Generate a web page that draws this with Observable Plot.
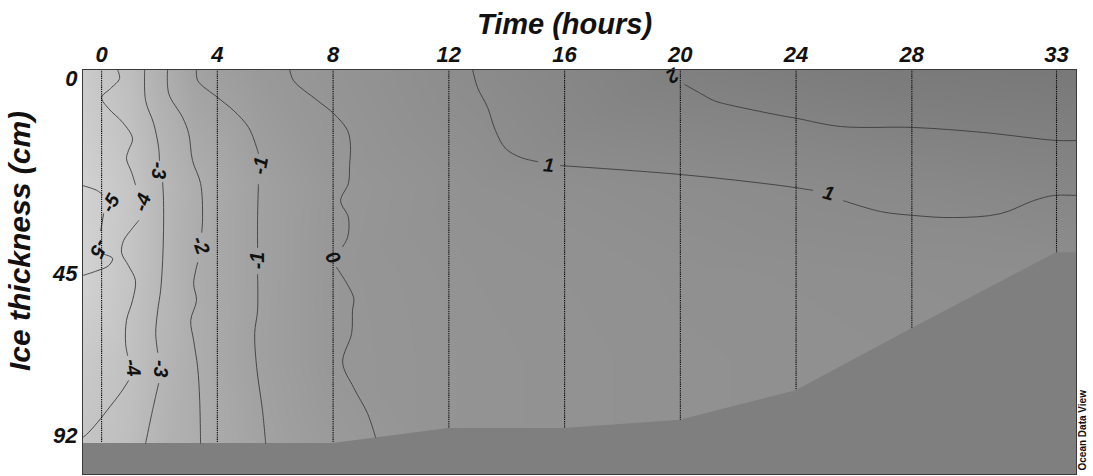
<!DOCTYPE html>
<html>
<head>
<meta charset="utf-8">
<script src="https://cdn.jsdelivr.net/npm/d3@7"></script>
<script src="https://cdn.jsdelivr.net/npm/@observablehq/plot@0.6"></script>
<style>
  body { margin: 0; background: #fff; }
  svg { display: block; }
</style>
</head>
<body>
<div id="chart"></div>
<script>
// Sampling times (hours) and the ice bottom under each station (cm)
const stationTimes = [0, 4, 8, 12, 16, 20, 24, 28, 33];
const stationBottom = [94.3, 94.3, 94.3, 90.0, 90.0, 87.6, 79.0, 61.0, 40.2];

// Ice bottom outline, edge to edge
const bottomTimes = [-0.66, 0, 4, 8, 12, 16, 20, 24, 28, 33, 33.69];
const bottomDepths = [94.3, 94.3, 94.3, 94.3, 90.0, 90.0, 87.6, 79.0, 61.0, 40.2, 40.2];

// Axis ticks
const timeTicks = [0, 4, 8, 12, 16, 20, 24, 28, 33];
const depthTicks = [0, 45, 92];

// Section extent
const timeDomain = [-0.66, 33.69];
const depthKnots = [-2.08, 0, 45, 92, 103.3];

// Gridded temperature (°C): rows follow fieldDepths, columns follow fieldTimes
const fieldTimes = [-0.66, 1, 2, 3.3, 5.4, 8.3, 13, 20, 27, 33.69];
const fieldDepths = [-2.08, 25, 45, 70, 103.3];
const fieldTemps = [
  [-4.7, -3.5, -2.3, -1.0, -0.3, 0.25, 1.0, 2.05, 2.5, 2.7],
  [-5.3, -4.2, -3.1, -2.1, -1.0, -0.05, 0.5, 0.85, 1.15, 1.5],
  [-5.4, -4.1, -3.1, -1.95, -1.0, 0.03, 0.35, 0.55, 0.7, 0.8],
  [-4.6, -3.8, -2.9, -2.0, -0.95, 0.0, 0.3, 0.5, 0.6, 0.7],
  [-4.0, -3.4, -2.6, -2.0, -1.2, -0.4, 0.3, 0.5, 0.6, 0.7]
];

// Isotherms as [time, depth] vertices; null breaks the line where a label sits
const isoM5 = [[-0.66, 24.7], [-0.17, 25.8], [0.03, 26.8], null,
  [0.07, 31.2], [-0.03, 35.1], null,
  [0.10, 40.6], [0.38, 41.5], [0.24, 43.2], [-0.21, 44.5], [-0.66, 45.6]];
const isoM4 = [[0.55, -2.08], [0.62, 0], [0.31, 2.31], [0, 4.38], [0.24, 6.92], [0.73, 10.15],
  [1.07, 13.85], [0.93, 16.6], [0.86, 18.5], [1.04, 21.7], [1.17, 24.5], null,
  [1.28, 32.8], [1.00, 35.1], [0.76, 37.4], [0.69, 40.2], [0.93, 43.2], [1.17, 47.0],
  [1.07, 52.8], [0.86, 58.6], [0.83, 65.3], [0.90, 68.8], null,
  [0.93, 76.1], [0.66, 79.6], [0.31, 83.4], [-0.14, 88.2], [-0.52, 91.7], [-0.66, 92.6]];
const isoM3 = [[1.49, -2.08], [1.52, 5.08], [1.80, 10.4], [1.97, 15.9], [2.00, 18.9], null,
  [2.11, 24.0], [2.14, 28.2], [2.14, 35.1], [2.11, 42.0], [2.04, 49.9], [1.94, 55.7],
  [1.87, 62.4], [1.94, 67.9], null,
  [1.97, 76.9], [1.76, 84.7], [1.52, 94.3]];
const isoM2 = [[2.28, -2.08], [2.32, 3.46], [2.80, 9.0], [3.01, 12.7], [3.14, 18.9],
  [3.42, 24.2], [3.49, 32.1], [3.46, 35.5], null,
  [3.32, 42.5], [3.18, 47.9], [3.28, 52.8], [3.08, 58.6], [3.18, 64.4], [3.32, 72.3],
  [3.39, 81.8], [3.42, 94.3]];
const isoM1 = [[3.28, -2.08], [3.32, 0.46], [4.01, 4.38], [4.56, 7.39], [5.08, 11.3],
  [5.39, 16.6], [5.42, 17.3], null,
  [5.42, 24.5], [5.39, 32.1], [5.39, 39.0], null,
  [5.39, 45.3], [5.39, 55.7], [5.29, 62.4], [5.36, 72.3], [5.56, 84.7], [5.67, 94.3]];
const iso0 = [[6.50, -2.08], [6.63, 0.46], [7.46, 5.08], [8.02, 8.08], [8.50, 12.0],
  [8.60, 15.5], [8.57, 20.1], [8.53, 24.2], [8.26, 28.2], [8.53, 32.1], [8.50, 36.7],
  [8.33, 38.8], null,
  [8.12, 43.6], [8.71, 52.0], [8.67, 55.7], [8.64, 62.4], [8.33, 70.8], [8.71, 78.1],
  [9.19, 85.6], [9.47, 92.6]];
const iso1 = [[12.82, -2.08], [12.99, 2.08], [13.34, 6.69], [13.61, 12.0], [13.96, 16.15],
  [14.48, 18.2], [15.07, 19.2], null,
  [15.86, 20.1], [20.08, 22.2], [23.46, 24.7], [24.57, 25.8], null,
  [25.64, 28.2], [26.92, 30.7], [28.06, 31.6], [29.44, 32.1], [31.06, 31.2], [32.20, 28.2],
  [32.90, 27.0], [33.69, 27.0]];
const iso2 = [[20.15, 1.38], [20.70, 3.46], [21.15, 5.08], [21.49, 5.77], [23.46, 8.54],
  [24.05, 9.23], [25.54, 11.08], [28.06, 11.3], [30.48, 12.46], [33.0, 14.3], [33.69, 14.3]];

// Contour labels: time, depth, text, angle along the line
const labelTimes = [0.31, -0.10, 1.42, 1.07, 1.97, 2.04, 3.42, 5.49, 5.39, 7.98, 15.45, 25.12, 19.73];
const labelDepths = [28.8, 39.2, 28.6, 72.3, 21.2, 72.6, 38.5, 20.1, 42.0, 41.3, 20.1, 26.5, -0.7];
const labelTexts = ["-5", "-5", "-4", "-4", "-3", "-3", "-2", "-1", "-1", "0", "1", "1", "2"];
const labelAngles = [-60, 115, -70, 80, 90, 90, 70, -80, -90, 60, 5, 15, 150];

// Tables for the marks
const field = [];
fieldDepths.forEach((d, i) => fieldTimes.forEach((t, j) => field.push({t, d, temp: fieldTemps[i][j]})));

const isoRows = [];
[["-5", isoM5], ["-4", isoM4], ["-3", isoM3], ["-2", isoM2], ["-1", isoM1],
 ["0", iso0], ["1", iso1], ["2", iso2]].forEach(([level, pts]) => {
  let seg = 0;
  pts.forEach(p => {
    if (p === null) { seg++; return; }
    isoRows.push({level, seg: level + "/" + seg, t: p[0], d: p[1]});
  });
});

const bottomRows = bottomTimes.map((t, i) => ({t, d: bottomDepths[i]}));
const stationRows = stationTimes.map((t, i) => ({t, bottom: stationBottom[i]}));
const labelRows = labelTexts.map((text, i) => ({t: labelTimes[i], d: labelDepths[i], text, angle: labelAngles[i]}));

const yTop = depthKnots[0];
const yEnd = depthKnots[depthKnots.length - 1];

// The depth axis is stretched in the upper ice: a piecewise-linear warp
const depthWarp = d3.scaleLinear().domain(depthKnots).range([0, 9, 204, 366, 405]);

const bold = {fontWeight: "bold", fontStyle: "italic", fill: "#111"};

const chart = Plot.plot({
  width: 1093,
  height: 476,
  marginLeft: 82,
  marginRight: 17,
  marginTop: 69,
  marginBottom: 2,
  style: {fontFamily: "'Liberation Sans', Arial, sans-serif", background: "#fff", color: "#111", overflow: "visible"},
  x: {domain: timeDomain, axis: null},
  y: {transform: depthWarp, reverse: true, axis: null},
  color: {type: "linear", domain: [-6, 3], range: ["#d9d9d9", "#757575"]},
  marks: [
    Plot.raster(field, {
      x: "t", y: "d", fill: "temp", interpolate: "barycentric",
      x1: timeDomain[0], x2: timeDomain[1], y1: yTop, y2: yEnd
    }),
    Plot.areaY(bottomRows, {x: "t", y1: "d", y2: yEnd, fill: "#7f7f7f"}),
    Plot.line(isoRows, {x: "t", y: "d", z: "seg", stroke: "#3c3c3c", strokeWidth: 0.9, curve: "catmull-rom", clip: true}),
    Plot.ruleX(stationRows, {x: "t", y1: yTop, y2: "bottom", stroke: "#0a0a0a", strokeWidth: 1.1, strokeDasharray: "1.3,0.9"}),
    Plot.text(labelRows, {x: "t", y: "d", text: "text", rotate: "angle", fontSize: 19.5, ...bold}),
    Plot.frame({stroke: "#3a3a3a", strokeWidth: 1}),
    Plot.axisX(timeTicks, {anchor: "top", tickSize: 0, tickPadding: 8, fontSize: 22, label: null, ...bold}),
    Plot.axisY(depthTicks, {anchor: "left", tickSize: 0, tickPadding: 5, fontSize: 22, label: null, ...bold}),
    Plot.text(["Time (hours)"], {text: d => d, frameAnchor: "top", dx: -15, dy: -36, lineAnchor: "bottom", fontSize: 29, ...bold}),
    Plot.text(["Ice thickness (cm)"], {text: d => d, frameAnchor: "left", rotate: -90, textAnchor: "middle", dx: -53, dy: -31, lineAnchor: "bottom", fontSize: 30, ...bold}),
    Plot.text(["Ocean Data View"], {text: d => d, frameAnchor: "bottom-right", rotate: -90, textAnchor: "start", dx: 9, dy: -4, fontSize: 10, fontWeight: "bold", fill: "#111"})
  ]
});

document.getElementById("chart").appendChild(chart);
</script>
</body>
</html>
